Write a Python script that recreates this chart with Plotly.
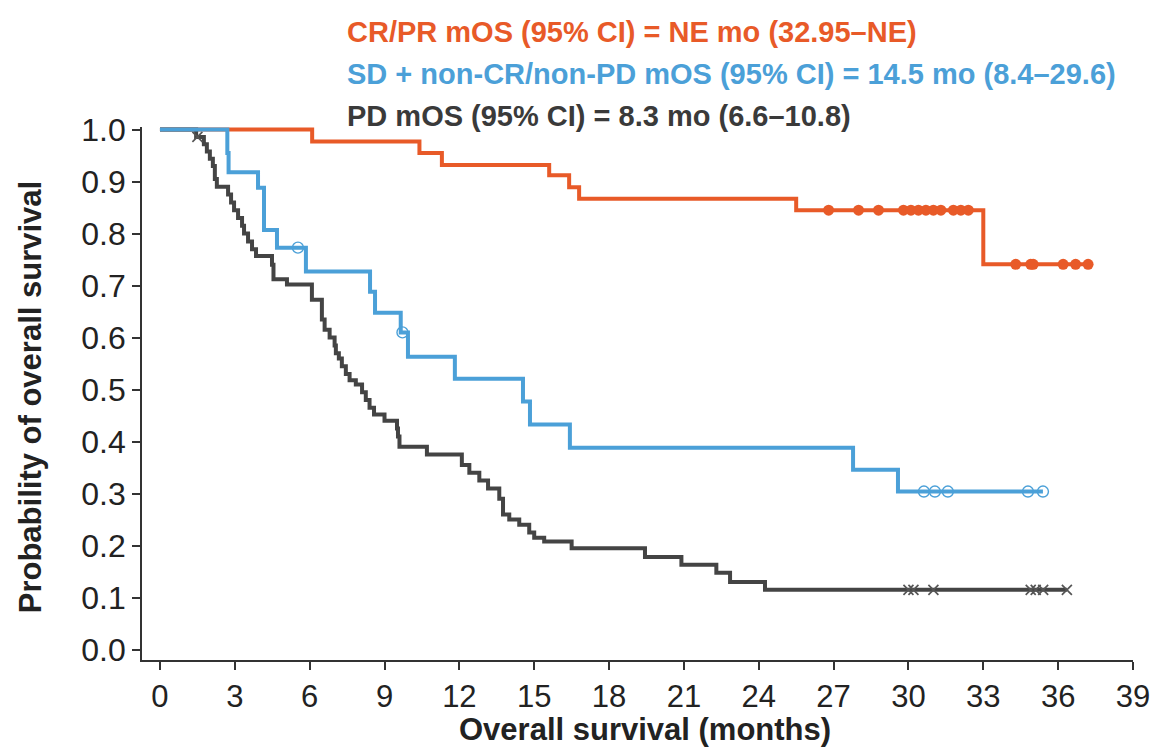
import numpy as np
import plotly.graph_objects as go

# ---- data ----
cr_t = [0, 6.1, 10.4, 11.3, 15.6, 16.4, 16.8, 25.5, 33.0, 37.2]
cr_s = [1.0, 0.977, 0.955, 0.932, 0.912, 0.889, 0.867, 0.845, 0.741, 0.741]
cr_cens = [26.8, 28.0, 28.8, 29.8, 30.1, 30.4, 30.7, 31.0, 31.3, 31.8, 32.1, 32.4,
           34.3, 34.9, 35.0, 36.2, 36.7, 37.2]

sd_t = [0, 2.7, 2.75, 3.93, 4.17, 4.69, 5.85, 8.42, 8.62, 9.65, 9.94, 11.82,
        14.55, 14.83, 16.43, 27.78, 29.58, 35.39]
sd_s = [1.0, 0.955, 0.918, 0.888, 0.807, 0.773, 0.727, 0.688, 0.648, 0.61, 0.563,
        0.521, 0.477, 0.433, 0.388, 0.346, 0.304, 0.304]
sd_cens = [5.53, 9.72, 30.62, 31.06, 31.58, 34.79, 35.39]

pd_t = [0, 1.45, 1.76, 1.88, 2.0, 2.12, 2.2, 2.28, 2.73, 2.85, 2.97, 3.13, 3.29, 3.37,
        3.53, 3.69, 3.85, 4.49, 4.55, 5.09, 6.09, 6.49, 6.6, 6.8, 7.0, 7.05, 7.17,
        7.29, 7.45, 7.6, 7.85, 8.1, 8.25, 8.4, 8.58, 9.0, 9.5, 9.54, 9.6, 10.7, 12.1,
        12.4, 12.8, 13.15, 13.6, 13.75, 14.0, 14.4, 14.8, 15.0, 15.4, 16.5, 19.44,
        20.9, 22.3, 22.85, 24.25, 36.35]
pd_s = [1.0, 0.986, 0.972, 0.958, 0.944, 0.93, 0.905, 0.89, 0.875, 0.86, 0.845, 0.83,
        0.815, 0.80, 0.785, 0.77, 0.757, 0.74, 0.712, 0.702, 0.673, 0.635, 0.615, 0.60,
        0.585, 0.57, 0.56, 0.545, 0.53, 0.518, 0.51, 0.495, 0.48, 0.465, 0.452, 0.44,
        0.425, 0.41, 0.39, 0.375, 0.355, 0.34, 0.325, 0.31, 0.29, 0.26, 0.25, 0.24,
        0.225, 0.215, 0.208, 0.195, 0.178, 0.163, 0.148, 0.13, 0.115, 0.115]
pd_cens = [1.5, 30.0, 30.2, 31.0, 34.9, 35.1, 35.4, 36.35]

x_ticks = list(range(0, 40, 3))
y_ticks = [round(v * 0.1, 1) for v in range(0, 11)]

legend_lines = [
    "CR/PR mOS (95% CI) = NE mo (32.95–NE)",
    "SD + non-CR/non-PD mOS (95% CI) = 14.5 mo (8.4–29.6)",
    "PD mOS (95% CI) = 8.3 mo (6.6–10.8)",
]
x_title = "Overall survival (months)"
y_title = "Probability of overall survival"

ORANGE = "#E85A28"
BLUE = "#4BA0D8"
GRAY = "#444444"
FONT = "Liberation Sans, Arial, sans-serif"


def step_at(times, surv, xs):
    t = np.asarray(times)
    s = np.asarray(surv)
    idx = np.searchsorted(t, np.asarray(xs), side="right") - 1
    return s[idx]


fig = go.Figure()

series = [
    (cr_t, cr_s, cr_cens, ORANGE, dict(symbol="circle", size=11, color=ORANGE)),
    (pd_t, pd_s, pd_cens, GRAY, dict(symbol="x-thin-open", size=10,
                                     color="#555555", line=dict(width=1.7, color="#555555"))),
    (sd_t, sd_s, sd_cens, BLUE, dict(symbol="circle-open", size=11,
                                     color=BLUE, line=dict(width=1.4, color=BLUE))),
]

for t, s, c, col, mk in series:
    fig.add_trace(go.Scatter(x=t, y=s, mode="lines", line=dict(color=col, width=4, shape="hv"),
                             showlegend=False, hoverinfo="skip"))
    fig.add_trace(go.Scatter(x=c, y=step_at(t, s, c), mode="markers", marker=mk,
                             showlegend=False, hoverinfo="skip"))

colors = [ORANGE, BLUE, "#3a3a3a"]
ys = [1.178, 1.099, 1.021]
for txt, col, yy in zip(legend_lines, colors, ys):
    fig.add_annotation(text=txt, xref="paper", yref="paper", x=0.2048, y=yy,
                       xanchor="left", yanchor="middle", showarrow=False,
                       font=dict(family=FONT, size=29, color=col, weight="bold"))

fig.add_annotation(text=x_title, xref="paper", yref="paper", x=0.5076, y=-0.131,
                   xanchor="center", yanchor="middle", showarrow=False,
                   font=dict(family=FONT, size=31, color="#222222", weight="bold"))
fig.add_annotation(text=y_title, xref="paper", yref="paper", x=-0.113, y=0.493,
                   xanchor="center", yanchor="middle", showarrow=False, textangle=-90,
                   font=dict(family=FONT, size=31, color="#222222", weight="bold"))

fig.update_layout(
    width=1153, height=749,
    margin=dict(l=142, r=20, t=127, b=89),
    paper_bgcolor="white", plot_bgcolor="white",
    font=dict(family=FONT, color="#222222"),
)
fig.update_xaxes(
    range=[-0.72, 39], tickvals=x_ticks, ticktext=[str(v) for v in x_ticks],
    showgrid=False, zeroline=False, showline=True, linecolor="#333333", linewidth=1.6,
    ticks="outside", ticklen=8, tickwidth=1.6, tickcolor="#333333", automargin=False,
    tickfont=dict(size=31, family=FONT, color="#222222"),
)
fig.update_yaxes(
    range=[-0.02, 1.005], tickvals=y_ticks, ticktext=[f"{v:.1f}" for v in y_ticks],
    showgrid=False, zeroline=False, showline=True, linecolor="#333333", linewidth=1.6,
    ticks="outside", ticklen=8, tickwidth=1.6, tickcolor="#333333", automargin=False,
    tickfont=dict(size=32, family=FONT, color="#222222"),
)

fig.write_html("out.html", config={"displayModeBar": False},
               post_script="document.body.style.margin='0';document.body.style.overflow='hidden';")
